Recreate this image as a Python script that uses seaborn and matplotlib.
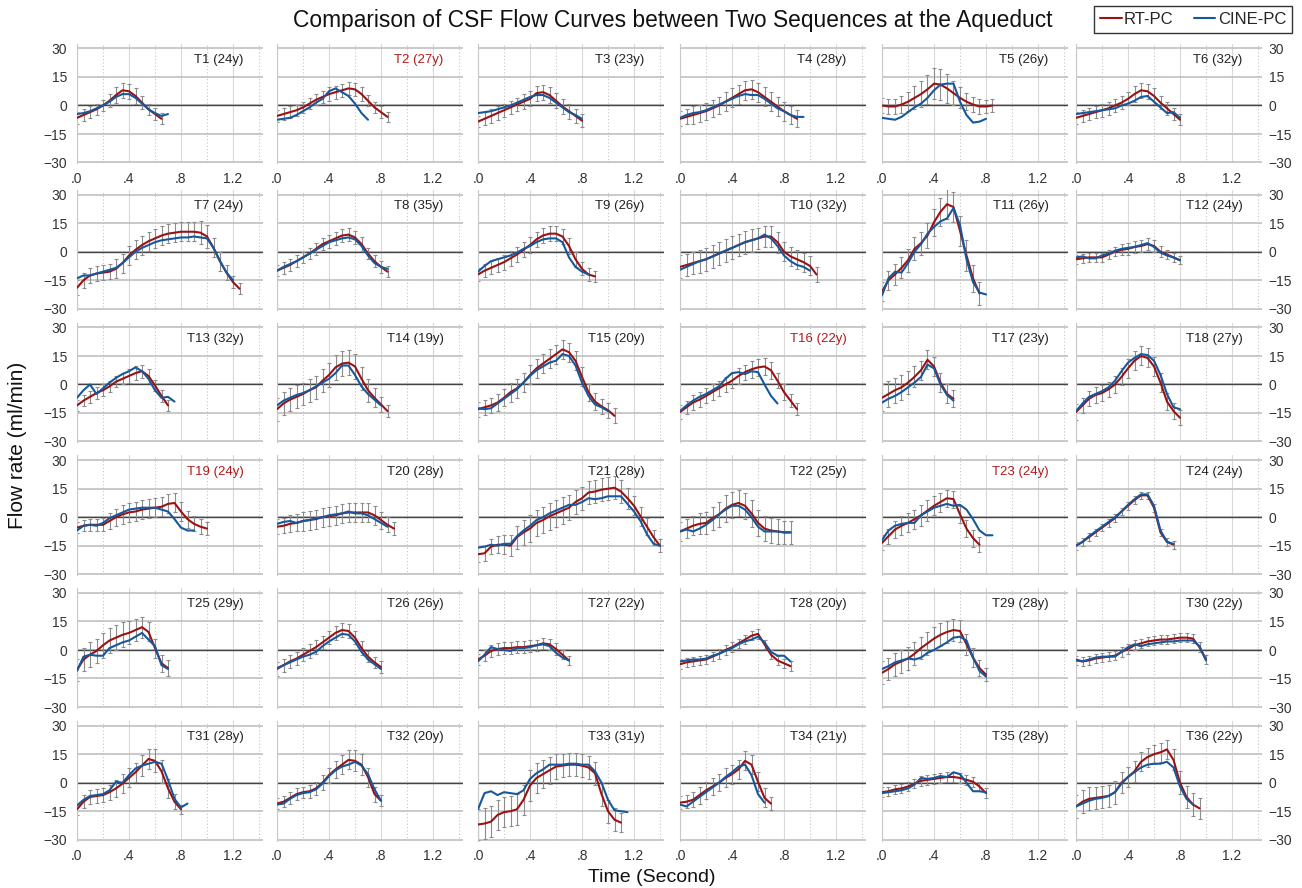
import matplotlib
matplotlib.use("Agg")
import pandas as pd
import matplotlib.pyplot as plt
from matplotlib.lines import Line2D
import seaborn as sns

# sampling grid of the curves (seconds)
TIME = [0.0, 0.05, 0.1, 0.15, 0.2, 0.25, 0.3, 0.35, 0.4, 0.45, 0.5, 0.55, 0.6, 0.65, 0.7,
        0.75, 0.8, 0.85, 0.9, 0.95, 1.0, 1.05, 1.1, 1.15, 1.2, 1.25, 1.3, 1.35, 1.4, 1.45]
AGES = [24, 27, 23, 28, 26, 32, 24, 35, 26, 32, 26, 24, 32, 19, 20, 22, 23, 27,
        24, 28, 28, 25, 24, 24, 29, 26, 22, 20, 28, 22, 28, 20, 31, 21, 28, 22]
FLAGGED = [2, 16, 19, 23]
XTICKS = [0.0, 0.4, 0.8, 1.2]
XTICK_LABELS = [".0", ".4", ".8", "1.2"]
YTICKS = [-30, -15, 0, 15, 30]

# RT-PC mean, RT-PC error bar, CINE-PC curve for each subject
RT1 = [-6.5, -5, -3.5, -2, 0, 2.5, 5.5, 8, 7.5, 5, 1.5, -2, -4.5, -7]
ER1 = [3, 3, 3, 3, 3, 3.5, 4, 4, 4, 4, 3.5, 3, 3, 3]
CN1 = [-4.5, -4, -3, -1.5, 0, 2, 4.5, 6, 6, 4, 1, -2, -4, -5.5, -4.5]

RT2 = [-5.5, -4.5, -3.5, -2.5, -1, 1, 3, 4.5, 6, 7, 8, 9, 8.5, 6, 2.5, -1, -3.5, -6]
ER2 = [3, 3, 3, 3, 3, 3, 3, 3, 3.5, 3.5, 3.5, 3.5, 3.5, 3.5, 3, 3, 3, 2.5]
CN2 = [-7.5, -7, -6.5, -5, -3, -1, 1.5, 3.5, 7.5, 9, 7, 5, 1, -4, -7.5]

RT3 = [-8.5, -7, -5.5, -4, -2.5, -1, 0.5, 2, 3.5, 6.5, 7, 5.5, 2.5, -0.5, -3, -5.5, -8]
ER3 = [3, 3.5, 3.5, 3.5, 3.5, 3.5, 3.5, 4, 4, 4, 4, 4, 4, 4, 4, 3.5, 3.5]
CN3 = [-4, -3.5, -3, -2, -1, 0, 1.5, 3, 4.5, 5.5, 5.5, 4, 1.5, -1, -3.5, -5, -7]

RT4 = [-7, -6, -5, -4, -3, -1.5, 0, 2, 4, 6, 8, 8.5, 7, 4.5, 2, -0.5, -3, -5, -7]
ER4 = [4, 4, 4.5, 4.5, 4.5, 4.5, 4.5, 5, 5, 5, 5, 5, 5, 5, 5, 5, 5, 4.5, 4.5]
CN4 = [-6.5, -5, -4, -3.5, -2.5, -1, 0.5, 2, 3.5, 5, 6, 5.5, 5.5, 3.5, 1, -1.5, -3, -5, -6, -6]

RT5 = [0, -0.5, -0.5, 0.5, 2, 4, 6, 8.5, 11.5, 11, 9, 6.5, 4, 2, 0.5, -0.5, -0.5, 0]
ER5 = [4, 4, 4, 4.5, 5, 6, 7, 7.5, 8, 8, 7.5, 6.5, 5.5, 4.5, 4, 4, 3.5, 3.5]
CN5 = [-6.5, -7, -7.5, -6, -3.5, -1, 1, 4, 8, 11, 11.5, 11.5, 2, -5, -9, -8.5, -7]

RT6 = [-6.5, -5.5, -4.5, -3.5, -2.5, -1.5, 0, 1.5, 3.5, 6, 8, 7.5, 5, 1.5, -1.5, -4.5, -7.5]
ER6 = [3, 3, 3, 3, 3.5, 3.5, 3.5, 3.5, 3.5, 4, 4, 4, 4, 3.5, 3.5, 3, 3]
CN6 = [-4.5, -4, -3.5, -3, -2.5, -2, -1.5, 0, 1, 2.5, 4.5, 5, 2, -1, -4, -3.5, -6.5]

RT7 = [-19, -15, -12.5, -11.5, -11, -10.5, -9, -6, -2, 1, 3.5, 5.5, 7, 8.5, 9.5, 10, 10.5,
       10.5, 10.5, 10, 8, 2, -5, -11, -16, -19.5]
ER7 = [4, 4, 4, 4, 4, 4, 5, 5, 5, 5, 5, 5, 5, 5, 5, 5, 5, 5, 5, 6, 6, 5, 5, 4, 3, 3]
CN7 = [-14, -12.5, -12.5, -11.5, -10.5, -9.5, -8.5, -6, -3, 0, 2, 3.5, 5, 6, 6.5, 7, 7.5,
       7.5, 8, 7.5, 7, 2, -5, -11, -15]

RT8 = [-10, -8.5, -7, -5, -3, -1, 1.5, 4, 5.5, 7, 8.5, 9, 7.5, 4, -1, -5, -8, -10.5]
ER8 = [3, 3, 3, 3, 3, 3, 3, 3, 3.5, 3.5, 3.5, 3.5, 3.5, 3.5, 3, 3, 3, 3]
CN8 = [-10, -8, -6.5, -5, -3, -1, 1, 3, 5, 6, 7, 7.5, 6.5, 3, -2, -6, -8, -9]

RT9 = [-12, -10, -8.5, -7, -5.5, -3.5, -1.5, 1, 3.5, 6.5, 8.5, 9.5, 9.5, 8, 3, -4, -9, -12, -13]
ER9 = [3.5, 3.5, 3.5, 3.5, 4, 4, 4, 4, 4, 4, 4, 4, 4, 4, 4, 4, 3.5, 3.5, 3]
CN9 = [-10.5, -7.5, -5, -4, -3, -2, -0.5, 1.5, 3, 5, 6.5, 7, 7, 5, -3, -8, -10.5, -12]

RT10 = [-8, -7, -6, -5, -4, -2.5, -1, 0.5, 2, 3.5, 5, 6, 7, 8, 8, 5, 0, -2.5, -4, -5.5, -7.5, -12]
ER10 = [6, 6, 6, 6, 6, 6, 6, 6, 6, 6, 6, 6, 5.5, 5.5, 5.5, 5.5, 5, 5, 5, 5, 5, 4]
CN10 = [-9.5, -8, -6.5, -5, -4, -2.5, -1, 0.5, 2, 3.5, 5, 6, 7, 9, 7, 3, -2, -5, -7, -8, -10]

RT11 = [-21, -15, -12, -8.5, -4.5, 1.5, 4.5, 8.5, 15.5, 21, 25, 23.5, 11, -2, -14, -22]
ER11 = [5, 5, 5.5, 5.5, 6, 6, 6, 6.5, 7, 7.5, 8, 8, 8, 8, 7, 6]
CN11 = [-23, -14, -10.5, -11, -6, 0, 4, 9.5, 13, 16, 17.5, 23, 14, -4, -16, -21.5, -22.5]

RT12 = [-4, -3.5, -3, -3, -3, -1.5, 0, 1, 1.5, 2.5, 3, 4, 3, 0, -1.5, -3, -4.5]
ER12 = [2.5, 2.5, 2.5, 2.5, 2.5, 2.5, 2.5, 3, 3, 3, 3, 3, 3, 3, 2.5, 2.5, 2]
CN12 = [-3, -2.5, -3.5, -3.5, -2, -1, 0.5, 1.5, 2, 2.5, 3.5, 4.5, 2.5, -0.5, -2, -3, -4.5]

RT13 = [-11, -8.5, -6.5, -4.5, -3, -1, 1.5, 3, 4.5, 6, 7, 4.5, -0.5, -6, -11]
ER13 = [3, 3, 3, 3, 3, 3, 3, 3, 3.5, 3.5, 3.5, 3.5, 3, 3, 3]
CN13 = [-7, -3, 0, -5, -2, 1, 3.5, 5.5, 7, 9, 7, 3, -3, -7, -6.5, -9]

RT14 = [-13, -10, -8, -6.5, -5, -3, -1.5, 2, 5, 9, 11, 11.5, 9.5, 3, -3, -7, -10.5, -14]
ER14 = [6, 6, 6, 6, 6, 6, 6, 6, 6.5, 6.5, 6.5, 6.5, 6.5, 6, 6, 5, 4, 3]
CN14 = [-11, -8.5, -7, -5.5, -4.5, -3, -1, 1, 3, 6, 10, 10, 5, -1, -5, -8, -11]

RT15 = [-13, -12, -11, -9.5, -7, -4, -2, 1, 5, 8.5, 11, 13.5, 16, 18.5, 17, 12.5, 4, -4, -9,
        -11.5, -13.5, -16.5]
ER15 = [4, 4, 4, 4.5, 4.5, 5, 5, 5, 5, 5, 5, 5, 5, 5, 5, 5, 5, 4.5, 4.5, 4, 4, 4]
CN15 = [-12.5, -13, -12.5, -10, -7.5, -5, -2.5, 1, 4.5, 7.5, 9.5, 11.5, 12.5, 16, 15, 10, 1,
        -6, -10.5, -12, -14]

RT16 = [-14.5, -12, -9.5, -8, -6, -4, -2, 0, 2, 4.5, 6.5, 8, 9, 9.5, 7.5, 2, -4, -8.5, -13]
ER16 = [3.5, 3.5, 4, 4, 4, 4, 4, 4, 4, 4, 4, 4.5, 4.5, 4.5, 4.5, 4, 4, 3.5, 3]
CN16 = [-14, -11, -8.5, -6.5, -5, -3, -1, 3, 6, 6.5, 5.5, 7, 6.5, 0, -6, -10]

RT17 = [-7, -5, -3, -1.5, 1, 4, 7.5, 13, 9.5, 1, -5, -7.5]
ER17 = [7, 7, 6.5, 6.5, 6, 5.5, 5, 5, 5, 5, 5, 4.5]
CN17 = [-9.5, -7.5, -6, -4, -1.5, 1, 4, 10.5, 8.5, 0, -5.5, -8.5]

RT18 = [-14.5, -11, -7.5, -5.5, -4.5, -2.5, 0, 4, 8.5, 12.5, 15, 14, 9.5, 1, -9, -14, -17.5]
ER18 = [4, 4, 4, 4, 4, 4, 4.5, 4.5, 5, 5, 5, 5, 5, 5, 4.5, 4, 4]
CN18 = [-14, -10, -6.5, -5, -3.5, -1.5, 2, 7, 11.5, 14, 16, 15.5, 12.5, 5, -5, -12, -13]

RT19 = [-5.5, -4.5, -4, -4, -4, -2, 0, 1.5, 2.5, 3, 4, 4.5, 5, 5.5, 7, 7.5, 3, -1, -3.5, -5, -6]
ER19 = [3, 3, 3, 3, 3.5, 4, 4.5, 5, 5, 5, 5, 5, 5, 5, 5, 5, 5, 4.5, 4, 4, 3.5]
CN19 = [-7, -4.5, -4, -4.5, -3, -0.5, 1, 2.5, 4, 4.5, 5, 5, 5, 4, 3, -1, -5.5, -7, -7]

RT20 = [-5, -4.5, -3.5, -3, -2, -1.5, -1, 0, 0.5, 1, 2, 2.5, 2.5, 2.5, 2.5, 1, -1.5, -4, -6]
ER20 = [4, 4, 4.5, 4.5, 5, 5, 5, 5, 5, 5, 5, 5, 5, 5, 5, 5, 4.5, 4, 3.5]
CN20 = [-3.5, -2.5, -2, -3, -2, -1.5, -0.5, 0, 1, 1.5, 2, 3, 2, 2, 1, -1, -3, -5]

RT21 = [-19.5, -19, -15.5, -14.5, -14.5, -15, -10.5, -8, -6, -3, -1.5, 0.5, 2, 3.5, 5, 8, 10,
        13, 13.5, 14.5, 15, 15.5, 13.5, 10, 6, 0.5, -5, -10.5, -15]
ER21 = [4, 4, 4, 4.5, 5, 5.5, 6, 6.5, 7, 7, 7, 7, 7, 7, 6.5, 6.5, 6, 6, 6, 6, 6, 6, 6, 5.5, 5,
        5, 4.5, 4, 3.5]
CN21 = [-16, -15.5, -14.5, -15, -14, -14, -10, -7, -4.5, -1.5, 0, 2, 3.5, 5, 6.5, 6.5, 8, 10,
        9.5, 10, 11, 11, 11, 7, 3, -2, -9, -14, -15]

RT22 = [-7.5, -6, -4.5, -3.5, -3, -0.5, 1.5, 4.5, 6.5, 7.5, 6, 2, -3, -6, -7, -7.5, -8, -8]
ER22 = [5, 5, 5, 5.5, 6, 6, 6.5, 7, 7, 7, 7, 7, 7, 6.5, 6.5, 6.5, 6, 6]
CN22 = [-7.5, -6.5, -7.5, -6, -4, -1.5, 1.5, 4, 6, 6, 4, 0, -5, -7.5, -7.5, -7.5, -8, -8]

RT23 = [-13.5, -10, -6.5, -4.5, -3, -1, 1, 3.5, 6, 8, 10, 9.5, 1.5, -6, -11, -14.5]
ER23 = [4, 4, 4.5, 5, 5, 5, 5.5, 5.5, 5, 5, 4.5, 4.5, 4.5, 4.5, 4.5, 4]
CN23 = [-12, -7, -4.5, -3.5, -3, -3, 1, 3, 5, 6, 7, 6, 6.5, 4, -1, -7, -9.5, -9.5]

RT24 = [-15, -13, -10.5, -8, -5.5, -3, -0.5, 3, 6, 9, 11.5, 11.5, 5, -8, -13, -14.5]
ER24 = [2, 2, 2, 2, 2, 2, 2, 2, 2, 2, 2, 2, 2, 2, 2, 2]
CN24 = [-15, -13, -10, -7.5, -5, -2.5, 0, 3, 6.5, 9.5, 12, 12, 6, -7, -13, -14]

RT25 = [-10.5, -5, -2.5, -0.5, 2.5, 5, 6.5, 8, 9, 10.5, 12, 9.5, 1, -7, -9.5]
ER25 = [6, 6, 6.5, 6.5, 6.5, 6.5, 6.5, 6.5, 6, 6, 5.5, 5, 5, 4.5, 4]
CN25 = [-11, -3.5, -2.5, -3, -3, 1, 2.5, 4, 5, 7, 9, 5.5, 2, -8, -10]

RT26 = [-10, -8, -6, -4.5, -2.5, -0.5, 1.5, 4, 6.5, 9, 10.5, 10, 6.5, 1, -3.5, -6.5, -9]
ER26 = [3.5, 3.5, 3.5, 3.5, 3.5, 3.5, 3.5, 3.5, 3.5, 3.5, 3.5, 3.5, 3.5, 3.5, 3, 3, 3]
CN26 = [-9.5, -8, -6.5, -5, -3.5, -2.5, -1, 2, 4.5, 6.5, 8.5, 8, 4.5, -1, -5, -7.5, -10]

RT27 = [-5, -3, -0.5, 0.5, 1, 1, 1.5, 1.5, 2, 2.5, 3.5, 3, 0.5, -2.5, -5.5]
ER27 = [3, 3, 3, 3, 3, 3, 3, 3, 3, 3, 3, 3, 3, 2.5, 2.5]
CN27 = [-6, -2.5, 1.5, 0.5, 0, -0.5, 1, 1, 1.5, 2.5, 3, 2, -1.5, -4, -5.5]

RT28 = [-7.5, -6.5, -6, -5.5, -5, -3.5, -2, 0, 1.5, 3.5, 5.5, 7.5, 8.5, 3, -2.5, -5.5, -7, -8.5]
ER28 = [2.5, 2.5, 2.5, 2.5, 2.5, 2.5, 2.5, 2.5, 2.5, 2.5, 2.5, 2.5, 2.5, 2.5, 2.5, 2.5, 2.5, 2.5]
CN28 = [-6, -5.5, -5, -5, -4.5, -3, -2, -0.5, 1, 3, 4.5, 5.5, 7, 4, -1, -3, -3, -6]

RT29 = [-12, -10, -7.5, -6, -4.5, -2, 1, 3.5, 6, 8, 9.5, 10.5, 10, 3, -4, -9.5, -13]
ER29 = [6, 6, 6, 6, 6, 6, 6, 6, 6, 6, 6, 6, 6, 5.5, 5, 4, 3.5]
CN29 = [-10, -8.5, -6.5, -5.5, -4.5, -5, -4, -1.5, 0, 2, 4, 6.5, 7, 5, -4, -11, -14]

RT30 = [-5.5, -6, -5.5, -4.5, -4, -3.5, -3, -1, 0.5, 2.5, 3.5, 4.5, 5, 5.5, 5.5, 6, 6.5, 6.5,
        6, 1.5, -5]
ER30 = [2.5, 2.5, 2.5, 2.5, 2.5, 2.5, 2.5, 2.5, 2.5, 2.5, 2.5, 2.5, 2.5, 2.5, 2.5, 2.5, 2.5,
        2.5, 2.5, 2.5, 2.5]
CN30 = [-5, -6, -5, -4, -3.5, -3.5, -3.5, -1, 1.5, 3, 2, 3, 3.5, 4, 4.5, 4.5, 5, 5, 5, 2, -5.5]

RT31 = [-14, -10, -7.5, -7, -6.5, -5, -3, -0.5, 2.5, 5.5, 9, 12.5, 11.5, 6, -3, -10, -14]
ER31 = [3, 3.5, 3.5, 3.5, 3.5, 4, 4.5, 5, 5, 5, 5.5, 5.5, 6, 6, 5, 4, 2.5]
CN31 = [-12, -9, -7, -6.5, -6, -4, 0.5, 0, 4, 7.5, 9, 10, 11, 10, 1.5, -8.5, -13, -11]

RT32 = [-11, -10, -8, -6, -5, -4.5, -3, 0, 4, 7, 9.5, 12, 11.5, 9.5, 3, -6, -9.5]
ER32 = [3, 3, 3, 3, 3, 3.5, 3.5, 4, 4, 4.5, 5, 5, 5.5, 5.5, 5, 4, 3]
CN32 = [-11.5, -11, -8.5, -6.5, -5.5, -5, -3.5, -0.5, 3.5, 6.5, 8.5, 9.5, 11, 9, 4.5, -3.5, -9.5]

RT33 = [-22, -21.5, -20.5, -17, -15.5, -15, -14, -9, -1.5, 2.5, 4.5, 6.5, 8.5, 9, 9.5, 9.5, 9,
        8, 5, -6, -15, -19.5, -21]
ER33 = [8, 8, 8, 8, 8, 8, 8, 8, 8, 8, 7.5, 7, 6.5, 6, 6, 6, 6, 6, 6, 6, 6, 6, 5]
CN33 = [-14, -5.5, -4.5, -6.5, -5, -5.5, -6, -4, 2, 5, 7, 9.5, 9.5, 9.5, 10, 10, 9.5, 9.5, 6,
        0, -9, -14.5, -15, -15.5]

RT34 = [-10.5, -10, -9, -6.5, -4, -2, 0, 2.5, 4.5, 7, 11.5, 9.5, 0.5, -8, -11]
ER34 = [3.5, 3.5, 4, 4.5, 4.5, 4.5, 4.5, 5, 5, 5, 5, 5, 5, 5, 3.5]
CN34 = [-11.5, -12.5, -10, -7.5, -5, -2.5, 0, 3, 5.5, 8.5, 9.5, 4, -6, -10.5]

RT35 = [-5, -4.5, -3.5, -3, -2, -0.5, 1, 1.5, 2, 2.5, 3, 3, 2.5, 1.5, 0.5, -2, -5.5]
ER35 = [2.5, 2.5, 2.5, 2.5, 2.5, 2.5, 2.5, 2.5, 2.5, 2.5, 2.5, 2.5, 2.5, 2.5, 2.5, 2.5, 2.5]
CN35 = [-5.5, -5, -4.5, -4, -3, -1, 2.5, 2, 2.5, 3.5, 3, 5.5, 4.5, 0, -4.5, -4.5, -5]

RT36 = [-12.5, -10, -8.5, -8, -7.5, -7, -5, 0, 3, 6, 11, 13.5, 15, 16, 17.5, 12, 0, -7.5,
        -11.5, -13.5]
ER36 = [6, 6, 6, 6, 6, 6, 6, 5.5, 5.5, 5.5, 5, 5, 5, 5, 5, 5.5, 6, 6, 6, 5.5]
CN36 = [-12.5, -11, -9.5, -8.5, -8, -7, -5, -0.5, 3, 5.5, 8, 9.5, 10, 10, 11, 8, -2, -8.5, -11.5]

RT = [RT1, RT2, RT3, RT4, RT5, RT6, RT7, RT8, RT9, RT10, RT11, RT12, RT13, RT14, RT15, RT16,
      RT17, RT18, RT19, RT20, RT21, RT22, RT23, RT24, RT25, RT26, RT27, RT28, RT29, RT30,
      RT31, RT32, RT33, RT34, RT35, RT36]
ERR = [ER1, ER2, ER3, ER4, ER5, ER6, ER7, ER8, ER9, ER10, ER11, ER12, ER13, ER14, ER15, ER16,
       ER17, ER18, ER19, ER20, ER21, ER22, ER23, ER24, ER25, ER26, ER27, ER28, ER29, ER30,
       ER31, ER32, ER33, ER34, ER35, ER36]
CINE = [CN1, CN2, CN3, CN4, CN5, CN6, CN7, CN8, CN9, CN10, CN11, CN12, CN13, CN14, CN15, CN16,
        CN17, CN18, CN19, CN20, CN21, CN22, CN23, CN24, CN25, CN26, CN27, CN28, CN29, CN30,
        CN31, CN32, CN33, CN34, CN35, CN36]

RED = "#9a1212"
BLUE = "#17589c"
TITLE_RED = "#b01c1c"

# long table for seaborn
rows = []
for i in range(36):
    for t, v in zip(TIME, RT[i]):
        rows.append((i, t, v, "RT-PC"))
    for t, v in zip(TIME, CINE[i]):
        rows.append((i, t, v, "CINE-PC"))
df = pd.DataFrame(rows, columns=["panel", "time", "flow", "seq"])

sns.set_style("white")
plt.rcParams["font.family"] = ["Liberation Sans", "DejaVu Sans"]

W, H = 1302, 888
fig = plt.figure(figsize=(W / 100, H / 100), dpi=100)

COL_X = [77, 277, 478, 680, 882, 1076]          # pixel of t = 0 in each column
ROW_ZERO = [105.5, 251.7, 384.5, 517.2, 650, 782.7]  # pixel of flow = 0 in each row
PX_Y = 1.9      # pixels per ml/min
PX_X = 130      # pixels per second
YLO, YHI = -30.5, 32.6
XHI = 1.43

for i in range(36):
    r, c = divmod(i, 6)
    top = ROW_ZERO[r] - YHI * PX_Y
    bot = ROW_ZERO[r] - YLO * PX_Y
    ax = fig.add_axes([COL_X[c] / W, 1 - bot / H, XHI * PX_X / W, (bot - top) / H])
    ax.set_axisbelow(True)

    n = len(RT[i])
    ax.errorbar(TIME[:n], RT[i], yerr=ERR[i], fmt="none", ecolor="#8c8c8c",
                elinewidth=0.8, capsize=1.6, capthick=0.8, zorder=2)
    sub = df[df["panel"] == i]
    sns.lineplot(data=sub, x="time", y="flow", hue="seq", hue_order=["RT-PC", "CINE-PC"],
                 palette={"RT-PC": RED, "CINE-PC": BLUE}, linewidth=1.5, legend=False,
                 errorbar=None, ax=ax, zorder=3)
    ax.axhline(0, color="#454545", lw=1.0, zorder=1.5)

    ax.set_xlim(0, XHI)
    ax.set_ylim(YLO, YHI)
    ax.set_xticks(XTICKS)
    ax.set_xticklabels(XTICK_LABELS)
    ax.set_xticks([0.2, 0.6, 1.0, 1.4], minor=True)
    ax.set_yticks(YTICKS)
    ax.xaxis.grid(True, which="major", color="#d9d9d9", lw=0.8)
    ax.xaxis.grid(True, which="minor", color="#c4c4c4", lw=0.8, ls=(0, (1, 2)))
    ax.yaxis.grid(True, which="major", color="#c0c0c0", lw=1.2)
    ax.set_xlabel("")
    ax.set_ylabel("")
    for side in ["top", "right", "bottom"]:
        ax.spines[side].set_visible(False)
    ax.spines["left"].set_color("#c8c8c8")
    ax.spines["left"].set_linewidth(0.8)

    ax.tick_params(which="both", length=0, labelsize=10, labelcolor="#333333")
    ax.tick_params(axis="x", pad=6, labelbottom=(r in (0, 5)))
    if c == 0:
        ax.tick_params(axis="y", pad=7, labelleft=True, labelright=False)
    elif c == 5:
        ax.tick_params(axis="y", pad=5, labelleft=False, labelright=True)
    else:
        ax.tick_params(axis="y", labelleft=False, labelright=False)

    color = TITLE_RED if (i + 1) in FLAGGED else "#222222"
    ax.text(1.28, 24, f"T{i + 1} ({AGES[i]}y)", ha="right", va="center",
            fontsize=9.5, color=color)

fig.text(673 / W, 1 - 20 / H,
         "Comparison of CSF Flow Curves between Two Sequences at the Aqueduct",
         ha="center", va="center", fontsize=16.4, color="#111111")
fig.text(18 / W, 1 - 445 / H, "Flow rate (ml/min)", rotation=90,
         ha="center", va="center", fontsize=15, color="#111111")
fig.text(652 / W, 1 - 877 / H, "Time (Second)", ha="center", va="center",
         fontsize=14, color="#111111")

handles = [Line2D([], [], color=RED, lw=1.5, label="RT-PC"),
           Line2D([], [], color=BLUE, lw=1.5, label="CINE-PC")]
leg = fig.legend(handles=handles, loc="upper right", bbox_to_anchor=(1292 / W, 1 - 6 / H),
                 ncol=2, frameon=True, fancybox=False, edgecolor="black", fontsize=12,
                 handlelength=1.3, handletextpad=0.15, columnspacing=1.2, borderpad=0.35,
                 borderaxespad=0)
leg.get_frame().set_linewidth(1.0)

fig.savefig("out.png", dpi=100)
